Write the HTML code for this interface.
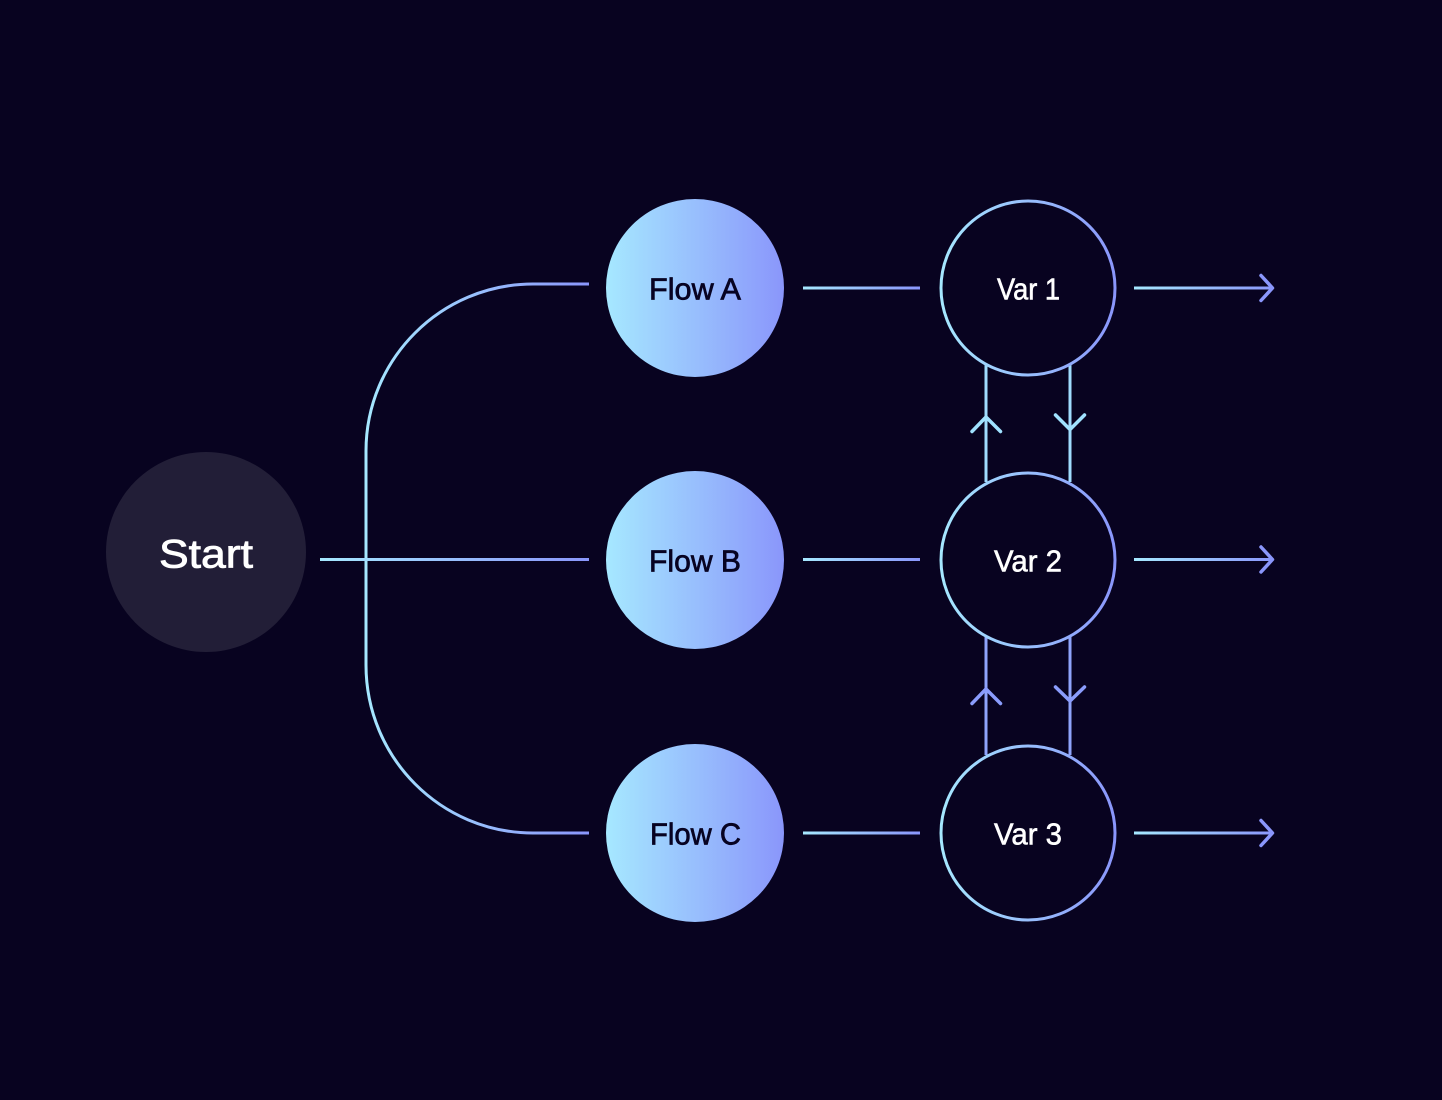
<!DOCTYPE html>
<html>
<head>
<meta charset="utf-8">
<style>
html,body{margin:0;padding:0;background:#080320;}
svg{display:block;}
text{font-family:"Liberation Sans",sans-serif;}
.f{font-size:30.500px;fill:#070322;stroke:#070322;stroke-width:.7px;}
.v{font-size:30.500px;fill:#fff;stroke:#fff;stroke-width:.6px;}
.l{fill:none;stroke-width:3;}
.c{stroke-linecap:round;stroke-linejoin:round;fill:none;stroke-width:3.500;}
</style>
</head>
<body>
<svg width="1442" height="1100" viewBox="0 0 1442 1100" xmlns="http://www.w3.org/2000/svg">
<defs>
<linearGradient id="fl" gradientUnits="objectBoundingBox" x1="0" y1="0" x2="1" y2="0"><stop offset="0" stop-color="#A6E8FF"/><stop offset="1" stop-color="#8A96FB"/></linearGradient>
<linearGradient id="g1" gradientUnits="userSpaceOnUse" x1="366" y1="0" x2="589" y2="0"><stop offset="0" stop-color="#A6E8FF"/><stop offset="1" stop-color="#8A96FB"/></linearGradient>
<linearGradient id="g2" gradientUnits="userSpaceOnUse" x1="320" y1="0" x2="589" y2="0"><stop offset="0" stop-color="#A6E8FF"/><stop offset="1" stop-color="#8A96FB"/></linearGradient>
<linearGradient id="g3" gradientUnits="userSpaceOnUse" x1="803" y1="0" x2="920" y2="0"><stop offset="0" stop-color="#A6E8FF"/><stop offset="1" stop-color="#8A96FB"/></linearGradient>
<linearGradient id="g4" gradientUnits="userSpaceOnUse" x1="1134" y1="0" x2="1274" y2="0"><stop offset="0" stop-color="#A6E8FF"/><stop offset="1" stop-color="#8A96FB"/></linearGradient>
<linearGradient id="g5" gradientUnits="userSpaceOnUse" x1="941" y1="0" x2="1115" y2="0"><stop offset="0" stop-color="#A6E8FF"/><stop offset="1" stop-color="#8A96FB"/></linearGradient>
</defs>
<rect width="1442" height="1100" fill="#080320"/>

<circle cx="206" cy="552" r="100" fill="#221E37"/>
<text x="159" y="567.500" font-size="40" fill="#fff" stroke="#fff" stroke-width=".8" textLength="94" lengthAdjust="spacingAndGlyphs">Start</text>

<path class="l" stroke="url(#g1)" d="M589 284H533C441 284 366 359 366 451V665C366 758 441 833 533 833H589"/>
<path class="l" stroke="url(#g2)" d="M320 559.500H589"/>

<circle cx="695" cy="288" r="89" fill="url(#fl)"/>
<circle cx="695" cy="560" r="89" fill="url(#fl)"/>
<circle cx="695" cy="833" r="89" fill="url(#fl)"/>
<text class="f" x="649" y="299.500" textLength="92" lengthAdjust="spacingAndGlyphs">Flow A</text>
<text class="f" x="649" y="571.500" textLength="92" lengthAdjust="spacingAndGlyphs">Flow B</text>
<text class="f" x="650" y="844.500" textLength="91" lengthAdjust="spacingAndGlyphs">Flow C</text>

<path class="l" stroke="url(#g3)" d="M803 288H920"/>
<path class="l" stroke="url(#g3)" d="M803 559.500H920"/>
<path class="l" stroke="url(#g3)" d="M803 833H920"/>

<path class="l" stroke="#A0DCFE" d="M986 365V482M1070 365V482"/>
<path class="c" stroke="#A0E2FF" d="M972 431.500L986 417L1000.500 431.500M1055.500 415L1070 429.500L1084.500 415"/>
<path class="l" stroke="#8FA4FC" d="M986 637V755M1070 637V755"/>
<path class="c" stroke="#8A9CFC" d="M972 703.500L986 689L1000.500 703.500M1055.500 687L1070 701L1084.500 687"/>

<circle cx="1028" cy="288" r="87" fill="#080320" stroke="url(#g5)" stroke-width="3"/>
<circle cx="1028" cy="560" r="87" fill="none" stroke="url(#g5)" stroke-width="3"/>
<circle cx="1028" cy="833" r="87" fill="#080320" stroke="url(#g5)" stroke-width="3"/>
<text class="v" x="997" y="299.500" textLength="63" lengthAdjust="spacingAndGlyphs">Var 1</text>
<text class="v" x="994" y="571.500" textLength="68" lengthAdjust="spacingAndGlyphs">Var 2</text>
<text class="v" x="994" y="844.500" textLength="68" lengthAdjust="spacingAndGlyphs">Var 3</text>

<path class="l" stroke="url(#g4)" d="M1134 288H1272"/>
<path class="l" stroke="url(#g4)" d="M1134 559.500H1272"/>
<path class="l" stroke="url(#g4)" d="M1134 833H1272"/>
<path class="c" stroke="#8A96FB" d="M1261 275.500L1272.500 288L1261 300.500M1261 547L1272.500 559.500L1261 572M1261 820.500L1272.500 833L1261 845.500"/>
</svg>
</body>
</html>
